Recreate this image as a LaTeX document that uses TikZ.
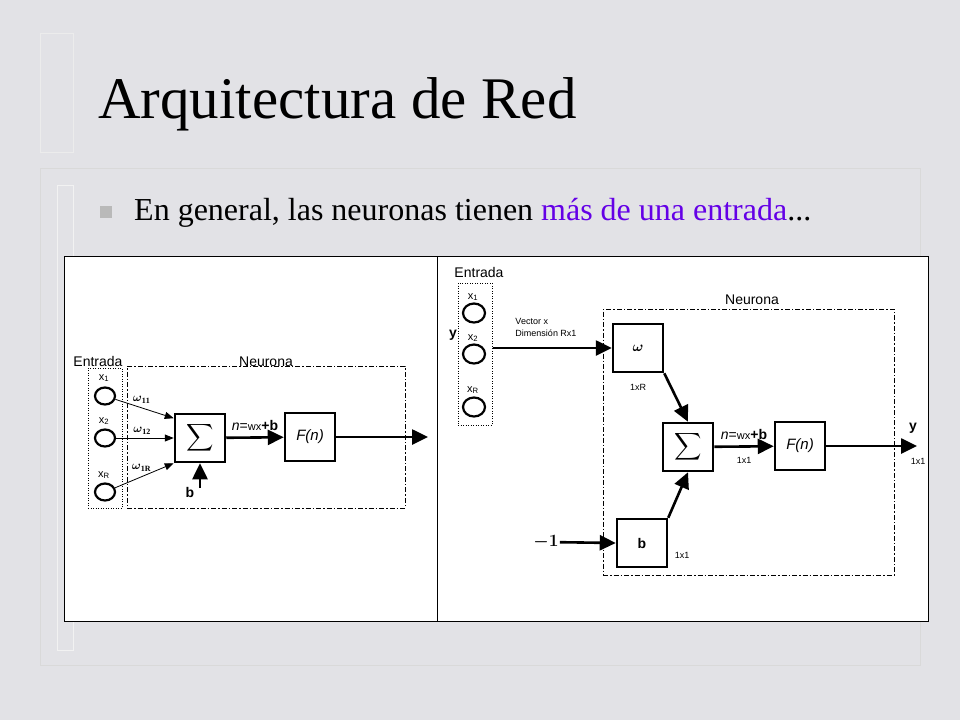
\documentclass[tikz,border=0pt]{standalone}
\usepackage{amsmath,amssymb}
\usepackage{fontspec}
\setmainfont{Liberation Serif}
\setsansfont{Liberation Sans}
\usepackage{xcolor}
\usepackage{tikz}
\usetikzlibrary{
  arrows.meta,
  calc,
  positioning,
  shapes.geometric
}
\definecolor{marmol}{RGB}{226,226,230}
\definecolor{violeta}{RGB}{100,0,230}

\begin{document}
\begin{tikzpicture}[
  x=1pt, y=-1pt,
  font=\sffamily,
  >={Triangle[length=16pt,width=15pt]},
  blk/.style={draw, line width=2.5pt, fill=white, minimum width=50pt,
              minimum height=48pt, inner sep=0pt},
  ent/.style={ellipse, draw, line width=2.2pt, minimum width=20pt,
              minimum height=17pt, inner sep=0pt},
  inbox/.style={draw, line width=1pt, dash pattern=on 1pt off 1.5pt},
  nbox/.style={draw, line width=1pt, dash pattern=on 5pt off 2pt on 1.5pt off 2pt},
  thk/.style={->, line width=2.6pt},
  thn/.style={-{Triangle[length=9pt,width=7pt]}, line width=0.8pt},
  lbl/.style={font=\sffamily\fontsize{14}{14}\selectfont, inner sep=0pt, anchor=base},
  sml/.style={font=\sffamily\fontsize{11}{12}\selectfont, inner sep=0pt},
  wgt/.style={font=\fontsize{12}{12}\selectfont, inner sep=1pt},
]
  \useasboundingbox (0,0) rectangle (960,720);
  % fondo
  \fill[marmol] (0,0) rectangle (960,720);
  \draw[white!85!gray, line width=1pt] (40,33) rectangle (73,152);
  \draw[white!70!gray, line width=1pt] (40,168) rectangle (920,665);
  \draw[white!90!gray, line width=1pt] (57,185) rectangle (73,650);

  % titulo y texto
  \node[anchor=base west, inner sep=0pt, font=\rmfamily\fontsize{59}{64}\selectfont]
    (titulo) at (98,118) {Arquitectura de Red};
  \node[fill=gray!55, minimum size=12pt, inner sep=0pt] (vineta) at (106,212) {};
  \node[anchor=base west, inner sep=0pt, font=\rmfamily\fontsize{32}{36}\selectfont]
    (texto) at (134,220)
    {En general, las neuronas tienen \textcolor{violeta}{más de una entrada}...};

  % panel
  \draw[fill=white, line width=1pt] (64,256) rectangle (928,621);
  \draw[line width=1pt] (437,256) -- (437,621);

  % Izquierda
  \node[inbox, minimum width=34pt, minimum height=140pt] (LE) at (105,438) {};
  \node[lbl] (LEt) at (98,366) {Entrada};
  \node[nbox, minimum width=278pt, minimum height=142pt] (LN) at (266,437) {};
  \node[lbl] (LNt) at (266,366) {Neurona};
  \foreach \i/\y in {1/396, 2/438, 3/492} {
    \node[ent] (LX\i) at (105,\y) {};
  }
  \foreach \i/\t/\y in {1/1/378, 2/2/421, 3/R/475} {
    \node[sml] (LXt\i) at (104,\y) {x\textsubscript{\t}};
  }
  \node[blk] (LS) at (200,438) {\fontsize{19}{19}\selectfont$\displaystyle\sum$};
  \node[blk] (LF) at (310,437) {\fontsize{15}{15}\selectfont\itshape F(n)};
  \draw[thn] (LX1) -- (LS.143)
    node[wgt, pos=.45, above=3pt] (Lw1) {$\boldsymbol{\omega}_{\mathbf{11}}$};
  \draw[thn] (LX2) -- (LS.west)
    node[wgt, pos=.45, above=2pt] (Lw2) {$\boldsymbol{\omega}_{\mathbf{12}}$};
  \draw[thn] (LX3) -- (LS.south west)
    node[wgt, pos=.45, above=4pt] (Lw3) {$\boldsymbol{\omega}_{\mathbf{1R}}$};
  \coordinate (Lb) at (200,488);
  \draw[thk] (Lb) -- (LS.south);
  \node[font=\sffamily\bfseries\fontsize{14}{14}\selectfont] (Lbt) at (190,492) {b};
  \draw[thk] (LS) -- (LF)
    node[midway, above=2pt, font=\sffamily\fontsize{14}{14}\selectfont] (Ln)
    {\itshape n\upshape{=}{\fontsize{11}{11}\selectfont wx}\bfseries+b};
  \coordinate (Lout) at (428,437);
  \draw[thk] (LF) -- (Lout);

  % Derecha
  \node[inbox, minimum width=34pt, minimum height=142pt] (RE) at (475,354) {};
  \node[lbl] (REt) at (479,277) {Entrada};
  \node[nbox, minimum width=291pt, minimum height=266pt] (RN) at (748.5,442) {};
  \node[lbl] (RNt) at (752,304) {Neurona};
  \foreach \i/\y in {1/313, 2/354, 3/407} {
    \node[ent, minimum width=22pt, minimum height=19pt] (RX\i) at (474,\y) {};
  }
  \foreach \i/\t/\y in {1/1/297, 2/2/338, 3/R/390} {
    \node[sml] (RXt\i) at (473,\y) {x\textsubscript{\t}};
  }
  \node[font=\sffamily\bfseries\fontsize{14}{14}\selectfont] (Ry) at (453,335) {y};
  \node[blk] (Rw) at (638,348) {\fontsize{15}{15}\selectfont$\boldsymbol{\omega}$};
  \node[sml, font=\sffamily\fontsize{9}{9}\selectfont] (Rwd) at (638,387) {1xR};
  \node[blk] (RS) at (688,447) {\fontsize{19}{19}\selectfont$\displaystyle\sum$};
  \node[blk] (RF) at (800,446) {\fontsize{15}{15}\selectfont\itshape F(n)};
  \node[blk] (Rb) at (642,543) {\fontsize{14}{14}\selectfont\bfseries b};
  \node[sml, font=\sffamily\fontsize{9}{9}\selectfont] (Rbd) at (682,555) {1x1};
  \node[align=left, inner sep=0pt, font=\sffamily\fontsize{9}{12}\selectfont]
    (Rv) at (546,327) {Vector x\\Dimensión Rx1};
  \draw[thk] (RE.east |- Rw.west) -- (Rw.west);
  \draw[thk] (Rw.south east) -- (RS.north);
  \draw[thk] (Rb.north east) -- (RS.south);
  \node[font=\rmfamily\fontsize{16}{16}\selectfont, inner sep=1pt] (Rm) at (546,542) {$\boldsymbol{-1}$};
  \draw[thk] (Rm) -- (Rb.west);
  \draw[thk] (RS) -- (RF)
    node[midway, above=2pt, font=\sffamily\fontsize{14}{14}\selectfont] (Rn)
    {\itshape n\upshape{=}{\fontsize{11}{11}\selectfont wx}\bfseries+b}
    node[midway, below=6pt, font=\sffamily\fontsize{9}{9}\selectfont] (Rnd) {1x1};
  \coordinate (Rout) at (917,446);
  \draw[thk] (RF) -- (Rout);
  \node[font=\sffamily\bfseries\fontsize{14}{14}\selectfont] (Ryo) at (913,428) {y};
  \node[sml, font=\sffamily\fontsize{9}{9}\selectfont] (Ryd) at (918,461) {1x1};
\end{tikzpicture}
\end{document}
